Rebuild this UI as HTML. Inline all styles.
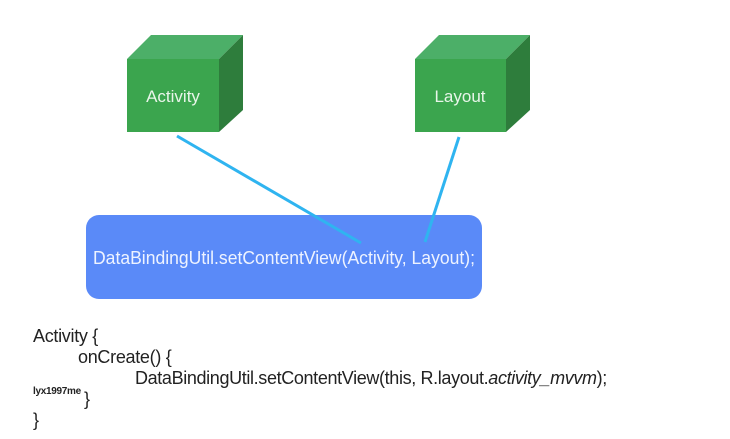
<!DOCTYPE html>
<html><head><style>
body{margin:0;width:730px;height:439px;background:#fff;overflow:hidden;position:relative;font-family:"Liberation Sans",sans-serif}
.t{position:absolute;white-space:nowrap;color:#222;font-size:18px;letter-spacing:-0.3px}
</style></head><body>
<svg width="730" height="439" style="position:absolute;left:0;top:0">
<polygon points="127,59 151,35 243,35 219,59" fill="#4caf68"/>
<polygon points="219,59 243,35 243,110 219,132" fill="#2e7d3c"/>
<rect x="127" y="59" width="92" height="73" fill="#3ba54e"/>
<text x="173" y="102" fill="#e8f5e9" font-size="17" text-anchor="middle" font-family="Liberation Sans">Activity</text>
<polygon points="415,59 439,35 530,35 506,59" fill="#4caf68"/>
<polygon points="506,59 530,35 530,110 506,132" fill="#2e7d3c"/>
<rect x="415" y="59" width="91" height="73" fill="#3ba54e"/>
<text x="460" y="102" fill="#e8f5e9" font-size="17" text-anchor="middle" font-family="Liberation Sans">Layout</text>
<rect x="86" y="215" width="396" height="84" rx="13" fill="#5a8af8"/>
<text x="284" y="264" fill="#eef3ff" font-size="18.5" text-anchor="middle" font-family="Liberation Sans" textLength="382" lengthAdjust="spacingAndGlyphs">DataBindingUtil.setContentView(Activity, Layout);</text>
<line x1="177" y1="136" x2="361" y2="243" stroke="#2fb4f0" stroke-width="3"/>
<line x1="459" y1="137" x2="425" y2="242" stroke="#2fb4f0" stroke-width="3"/>
</svg>
<div class="t" style="left:33px;top:326px">Activity {</div>
<div class="t" style="left:78px;top:347px">onCreate() {</div>
<div class="t" style="left:135px;top:368px;letter-spacing:-0.36px">DataBindingUtil.setContentView(this, R.layout.<i>activity_mvvm</i>);</div>
<div class="t" style="left:84px;top:389px">}</div>
<div class="t" style="left:33px;top:410px">}</div>
<div class="t" style="left:33px;top:386px;font-size:10px;font-weight:bold;letter-spacing:-0.3px">lyx1997me</div>
</body></html>
